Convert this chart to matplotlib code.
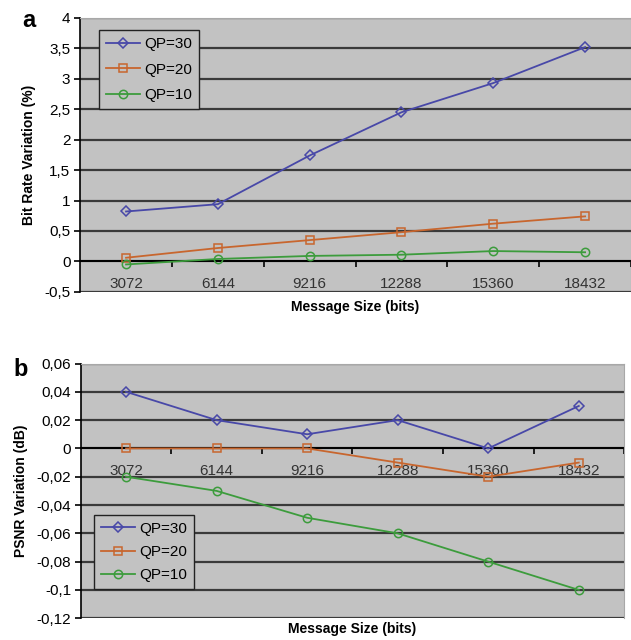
import matplotlib
matplotlib.use("Agg")
import matplotlib.pyplot as plt
from matplotlib.ticker import FuncFormatter, FixedLocator

plt.rcParams['font.family'] = ['Liberation Sans', 'DejaVu Sans']

# data
sizes = ["3072", "6144", "9216", "12288", "15360", "18432"]
series = ["QP=30", "QP=20", "QP=10"]

bitrate_qp30 = [0.82, 0.94, 1.74, 2.45, 2.93, 3.52]
bitrate_qp20 = [0.06, 0.22, 0.35, 0.48, 0.62, 0.74]
bitrate_qp10 = [-0.05, 0.04, 0.09, 0.11, 0.17, 0.15]

psnr_qp30 = [0.04, 0.02, 0.01, 0.02, 0.0, 0.03]
psnr_qp20 = [0.0, 0.0, 0.0, -0.01, -0.02, -0.01]
psnr_qp10 = [-0.02, -0.03, -0.049, -0.06, -0.08, -0.10]

colors = ['#4848a8', '#c8662e', '#3c9c3c']
markers = ['D', 's', 'o']
msizes = [5, 6, 6]


def comma(v, pos):
    s = ('%g' % round(v, 4))
    return s.replace('.', ',')


def draw(ax, data, ylim, ystep, ylabel, legend_loc, spacing):
    x = list(range(len(sizes)))
    ax.set_facecolor('#c2c2c2')
    for vals, name, c, m, ms in zip(data, series, colors, markers, msizes):
        ax.plot(x, vals, color=c, marker=m, markersize=ms, markerfacecolor='none',
                markeredgewidth=1.1, linewidth=1.3, label=name, zorder=3)
    ax.set_xlim(-0.5, len(sizes) - 0.5)
    ax.set_ylim(*ylim)
    n = int(round((ylim[1] - ylim[0]) / ystep))
    yt = [ylim[0] + i * ystep for i in range(n + 1)]
    ax.yaxis.set_major_locator(FixedLocator(yt))
    ax.yaxis.set_major_formatter(FuncFormatter(comma))
    ax.grid(axis='y', color='#3a3a3a', linewidth=1.6, zorder=1)
    ax.set_axisbelow(True)

    ax.spines['bottom'].set_position(('data', 0))
    ax.spines['bottom'].set_linewidth(1.4)
    ax.spines['bottom'].set_zorder(2)
    ax.spines['left'].set_linewidth(1.2)
    for s in ['top', 'right']:
        ax.spines[s].set_color('#a8a8a8')

    ax.set_xticks(x)
    ax.set_xticklabels(sizes, color='#333333', fontsize=11)
    ax.set_xticks([i + 0.5 for i in range(len(sizes))], minor=True)
    ax.tick_params(axis='x', which='major', length=0, pad=11)
    ax.tick_params(axis='x', which='minor', length=4, width=1.2, direction='out')
    ax.tick_params(axis='y', length=4, width=1.2, labelsize=11, pad=3)

    ax.set_ylabel(ylabel, fontsize=10, fontweight='bold', labelpad=6)
    ax.set_xlabel("Message Size (bits)", fontsize=10, fontweight='bold')
    leg = ax.legend(loc=legend_loc, fontsize=11, frameon=True, fancybox=False,
                    handlelength=2.2, borderpad=0.45, labelspacing=spacing,
                    handletextpad=0.3, borderaxespad=0)
    leg.get_frame().set_facecolor('#c2c2c2')
    leg.get_frame().set_edgecolor('#222222')
    leg.get_frame().set_alpha(1)


fig = plt.figure(figsize=(6.31, 6.40), dpi=100)

ax1 = fig.add_axes([0.127, 0.544, 0.873, 0.428])
draw(ax1, [bitrate_qp30, bitrate_qp20, bitrate_qp10], (-0.5, 4), 0.5,
     "Bit Rate Variation (%)", 'upper left', 0.75)
ax1.xaxis.set_label_coords(0.5, -0.03)
ax1.get_legend().set_bbox_to_anchor((0.035, 0.955))

ax2 = fig.add_axes([0.128, 0.034, 0.861, 0.398])
draw(ax2, [psnr_qp30, psnr_qp20, psnr_qp10], (-0.12, 0.06), 0.02,
     "PSNR Variation (dB)", 'lower left', 0.6)
ax2.xaxis.set_label_coords(0.5, -0.015)
ax2.get_legend().set_bbox_to_anchor((0.025, 0.115))

fig.text(0.035, 0.968, "a", fontsize=17, fontweight='bold', va='center')
fig.text(0.022, 0.423, "b", fontsize=17, fontweight='bold', va='center')

fig.savefig("out.png", dpi=100)
